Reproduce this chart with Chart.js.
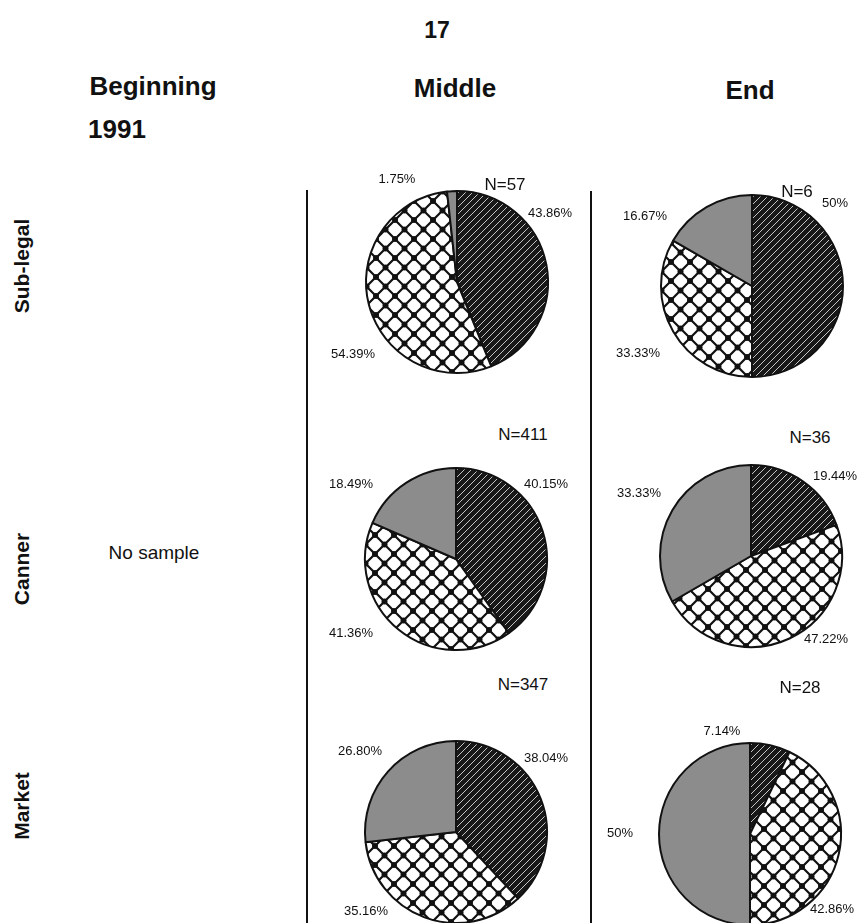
<!DOCTYPE html>
<html>
<head>
<meta charset="utf-8">
<script src="https://cdn.jsdelivr.net/npm/chart.js@4.4.1/dist/chart.umd.min.js"></script>
<style>
  body { margin: 0; background: #fff; font-family: "Liberation Sans", Arial, sans-serif; color: #111; }
  #page { position: relative; width: 865px; height: 923px; overflow: hidden; }
  .txt { position: absolute; white-space: nowrap; transform: translate(-50%, -50%); }
  .head { font-weight: bold; font-size: 26px; }
  .page-no { font-weight: bold; font-size: 23px; }
  .row { font-weight: bold; font-size: 21px; transform: translate(-50%, -50%) rotate(-90deg); }
  .n { font-size: 17px; }
  .none { font-size: 19px; }
  .pct { font-size: 13px; }
  .vline { position: absolute; width: 2px; background: #111; }
  canvas { position: absolute; }
</style>
</head>
<body>
<div id="page"></div>
<script>
// data
const sizeClasses = ["Sub-legal", "Canner", "Market"];
const periods = ["Beginning", "Middle", "End"];
const sliceNames = ["Hatched", "Cross-hatched", "Grey"];

const subLegalMiddle = [43.86, 54.39, 1.75];
const subLegalEnd = [50, 33.33, 16.67];
const cannerMiddle = [40.15, 41.36, 18.49];
const cannerEnd = [19.44, 47.22, 33.33];
const marketMiddle = [38.04, 35.16, 26.80];
const marketEnd = [7.14, 42.86, 50];

const sampleSizes = [57, 6, 411, 36, 347, 28];

// layout: pie centre, N label spot, percent label spots (per slice)
const pies = [
  { values: subLegalMiddle, n: sampleSizes[0], cx: 457, cy: 282, nPos: [505, 185], spots: [[550, 212], [353, 353], [397, 178]] },
  { values: subLegalEnd,    n: sampleSizes[1], cx: 752, cy: 286, nPos: [797, 192], spots: [[835, 202], [638, 352], [645, 215]] },
  { values: cannerMiddle,   n: sampleSizes[2], cx: 456, cy: 559, nPos: [523, 435], spots: [[546, 483], [351, 632], [351, 483]] },
  { values: cannerEnd,      n: sampleSizes[3], cx: 751, cy: 556, nPos: [810, 438], spots: [[835, 475], [826, 638], [639, 492]] },
  { values: marketMiddle,   n: sampleSizes[4], cx: 456, cy: 832, nPos: [523, 685], spots: [[546, 757], [366, 910], [360, 750]] },
  { values: marketEnd,      n: sampleSizes[5], cx: 750, cy: 834, nPos: [800, 688], spots: [[722, 730], [832, 908], [620, 832]] },
];

const page = document.getElementById("page");

function addText(text, x, y, cls) {
  const d = document.createElement("div");
  d.className = "txt " + cls;
  d.style.left = x + "px";
  d.style.top = y + "px";
  d.textContent = text;
  page.appendChild(d);
}

function fmtPct(v) {
  return (Number.isInteger(v) ? String(v) : v.toFixed(2)) + "%";
}

// fill patterns
function hatchPattern() {
  // dark fill with thin light "/" diagonals
  const s = 7;
  const c = document.createElement("canvas");
  c.width = s; c.height = s;
  const g = c.getContext("2d");
  g.fillStyle = "#181818";
  g.fillRect(0, 0, s, s);
  g.fillStyle = "#c4c4c4";
  for (let j = 0; j < s; j++) {
    g.fillRect(j, s - 1 - j, 1, 1);
  }
  return g.createPattern(c, "repeat");
}

function crossPattern() {
  const s = 19;
  const c = document.createElement("canvas");
  c.width = s; c.height = s;
  const g = c.getContext("2d");
  g.fillStyle = "#fff";
  g.fillRect(0, 0, s, s);
  g.strokeStyle = "#111";
  g.lineWidth = 2.2;
  g.beginPath();
  g.moveTo(-1, -1); g.lineTo(s + 1, s + 1);
  g.moveTo(-1, s + 1); g.lineTo(s + 1, -1);
  g.stroke();
  g.fillStyle = "#111";
  [[s / 2, s / 2], [0, 0], [s, 0], [0, s], [s, s]].forEach(([x, y]) => {
    g.beginPath();
    g.arc(x, y, 3, 0, Math.PI * 2);
    g.fill();
  });
  return g.createPattern(c, "repeat");
}

const fills = [hatchPattern(), crossPattern(), "#8c8c8c"];

// headings
addText("17", 437, 30, "page-no");
addText(periods[0], 153, 86, "head");
addText("1991", 117, 129, "head");
addText(periods[1], 455, 88, "head");
addText(periods[2], 750, 90, "head");

addText(sizeClasses[0], 22, 266, "row");
addText(sizeClasses[1], 22, 569, "row");
addText(sizeClasses[2], 22, 806, "row");

addText("No sample", 154, 553, "none");

[[307, 190], [591, 191]].forEach(([x, top]) => {
  const l = document.createElement("div");
  l.className = "vline";
  l.style.left = (x - 1) + "px";
  l.style.top = top + "px";
  l.style.height = (923 - top) + "px";
  page.appendChild(l);
});

pies.forEach((p) => {
  const size = 200;
  const cv = document.createElement("canvas");
  cv.width = size; cv.height = size;
  cv.style.left = (p.cx - size / 2) + "px";
  cv.style.top = (p.cy - size / 2) + "px";
  page.appendChild(cv);

  new Chart(cv.getContext("2d"), {
    type: "pie",
    data: {
      labels: sliceNames,
      datasets: [
        {
          data: p.values,
          backgroundColor: fills,
          borderColor: "#111",
          borderWidth: 2,
          radius: 91,
        },
      ],
    },
    options: {
      responsive: false,
      animation: false,
      events: [],
      plugins: {
        legend: { display: false },
        tooltip: { enabled: false },
      },
    },
  });

  addText("N=" + p.n, p.nPos[0], p.nPos[1], "n");
  p.values.forEach((v, i) => {
    addText(fmtPct(v), p.spots[i][0], p.spots[i][1], "pct");
  });
});
</script>
</body>
</html>
